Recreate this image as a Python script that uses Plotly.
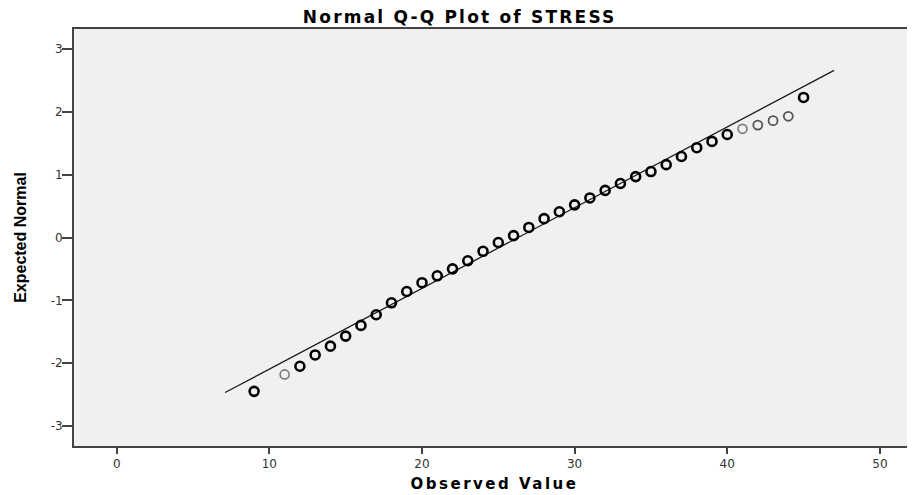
import plotly.graph_objects as go

# observed STRESS scores and their expected normal values
observed = [9, 11, 12, 13, 14, 15, 16, 17, 18, 19, 20, 21, 22, 23, 24, 25, 26, 27,
            28, 29, 30, 31, 32, 33, 34, 35, 36, 37, 38, 39, 40, 41, 42, 43, 44, 45]
expected = [-2.45, -2.18, -2.05, -1.87, -1.73, -1.57, -1.40, -1.23, -1.04, -0.86,
            -0.72, -0.61, -0.50, -0.37, -0.22, -0.08, 0.03, 0.16, 0.30, 0.41,
            0.52, 0.63, 0.75, 0.86, 0.97, 1.05, 1.16, 1.29, 1.43, 1.53,
            1.64, 1.73, 1.79, 1.86, 1.93, 2.23]
# single cases are drawn lighter than stacked (repeated) cases
light_cases = [11, 41]
mid_cases = [42, 43, 44]

# reference line from the sample mean and sd
mean_stress = 26.3
sd_stress = 7.78
line_x = [7.1, 47.0]
line_y = [(v - mean_stress) / sd_stress for v in line_x]

x_ticks = [0, 10, 20, 30, 40, 50]
y_ticks = [-3, -2, -1, 0, 1, 2, 3]
y_tick_text = ['-3', '-2', '-1', '0', '1', '2', '3']

colors = []
widths = []
for v in observed:
    if v in light_cases:
        colors.append('#7a7a7a')
        widths.append(1.6)
    elif v in mid_cases:
        colors.append('#555555')
        widths.append(1.8)
    else:
        colors.append('#000000')
        widths.append(2.6)

fig = go.Figure()
fig.add_trace(go.Scatter(x=line_x, y=line_y, mode='lines',
                         line=dict(color='#1a1a1a', width=1.3),
                         hoverinfo='skip', showlegend=False))
fig.add_trace(go.Scatter(x=observed, y=expected, mode='markers',
                         marker=dict(symbol='circle-open', size=9, color=colors,
                                     line=dict(width=widths, color=colors)),
                         showlegend=False))

# page body adds an 8px margin, so the figure is 8px smaller each way
fig.update_layout(
    width=907, height=487,
    paper_bgcolor='white',
    plot_bgcolor='#f0f0f0',
    margin=dict(l=66, r=0, t=21, b=49, autoexpand=False),
    title=dict(text='<span style="letter-spacing:2.2px"><b>Normal Q-Q Plot of STRESS</b></span>',
               x=0.498, xanchor='center', y=0.982, yanchor='middle',
               font=dict(family='DejaVu Sans', size=17, color='#000000')),
    font=dict(family='DejaVu Sans', color='#333333'),
)
fig.update_xaxes(
    range=[-2.8, 52.3], tickvals=x_ticks, ticks='outside', ticklen=6, tickwidth=2,
    tickcolor='#444444', showgrid=False, zeroline=False, automargin=False,
    showline=True, linecolor='#444444', linewidth=2, mirror=True,
    tickfont=dict(family='DejaVu Sans', size=12, color='#333333'),
    title=dict(text='<span style="letter-spacing:2.5px"><b>Observed Value</b></span>',
               standoff=8,
               font=dict(family='DejaVu Sans', size=15, color='#000000')),
)
fig.update_yaxes(
    range=[-3.32, 3.32], tickvals=y_ticks, ticktext=y_tick_text,
    ticks='outside', ticklen=10, tickwidth=1.5, ticklabelstandoff=-3,
    tickcolor='#444444', showgrid=False, zeroline=False, automargin=False,
    showline=True, linecolor='#444444', linewidth=2,
    tickfont=dict(family='DejaVu Sans', size=12, color='#333333'),
    title=dict(text='<b>Expected Normal</b>', standoff=20,
               font=dict(family='Liberation Sans Narrow, Liberation Sans', size=16,
                         color='#000000')),
)

fig.write_html("out.html")
